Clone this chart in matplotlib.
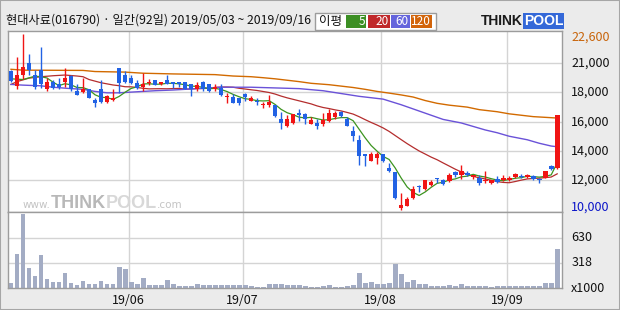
import numpy as np
import pandas as pd
import matplotlib
matplotlib.use('Agg')
import matplotlib.pyplot as plt
import matplotlib.transforms as mtransforms
from matplotlib.patches import Rectangle

plt.rcParams['font.family'] = ['Noto Sans CJK KR', 'DejaVu Sans']

# 현대사료(016790) 일봉, 2019/05/03 ~ 2019/09/16 (92 거래일)
opens = [19950, 18900, 19700, 20550, 19650, 20000, 18700, 19200, 19000, 19200,
         19600, 18550, 18450, 18700, 17900, 18700, 17750, 17900, 20150, 19650,
         19450, 19100, 18800, 19100, 19300, 19050, 19300, 19200, 19200, 19200,
         19050, 18650, 19200, 19050, 18700, 18750, 18100, 18100, 18050, 18300,
         17850, 17850, 17500, 17500, 17550, 16500, 16000, 16250, 16950, 16900,
         16200, 16250, 16150, 16400, 16700, 17000, 16550, 15650, 15050, 14050,
         13550, 13750, 14000, 13050, 12750, 10200, 10300, 10900, 11750, 11500,
         11850, 12350, 12200, 12100, 12750, 12500, 12700, 12400, 12350, 12100,
         11950, 12250, 12150, 12150, 12400, 12450, 12400, 12450, 12250, 12350,
         13200, 13000]
highs = [20000, 20950, 22600, 21200, 20000, 21650, 19450, 19350, 19450, 20150,
         19700, 19050, 19450, 18700, 18050, 19350, 18250, 18700, 20150, 19950,
         19700, 19350, 19800, 19400, 19300, 19200, 19700, 19200, 19200, 19200,
         19050, 19200, 19250, 19050, 19000, 19050, 18400, 18300, 18050, 18400,
         18150, 18000, 17750, 18250, 17550, 17050, 16800, 16900, 17250, 16950,
         16700, 16550, 16950, 17250, 17100, 17100, 16700, 16050, 15400, 14050,
         14200, 14200, 14050, 13400, 12750, 11250, 10950, 11750, 11850, 12150,
         12200, 12350, 12250, 12700, 12850, 13250, 12800, 12550, 12500, 12800,
         12200, 12450, 12500, 12450, 12700, 12600, 12600, 12500, 12300, 12850,
         13250, 16800]
lows = [19200, 18650, 19400, 19700, 18650, 18750, 18550, 18700, 18700, 18800,
        18500, 18250, 18400, 18050, 17400, 17700, 17700, 17800, 18400, 19100,
        19050, 18650, 18550, 18950, 18950, 18950, 19000, 18750, 18800, 18650,
        18200, 18550, 18500, 18450, 18500, 18200, 17700, 17650, 17550, 17800,
        17800, 17500, 17300, 17400, 16700, 15850, 15950, 16150, 16400, 16200,
        16200, 15850, 16050, 16350, 16500, 16650, 16050, 14950, 13250, 13150,
        13550, 13350, 13450, 12750, 10850, 10000, 10300, 10850, 11300, 11450,
        11750, 11950, 11800, 12000, 12400, 12250, 12450, 12250, 11850, 11950,
        11900, 11950, 12100, 12100, 12350, 12350, 12300, 12200, 11950, 12300,
        12900, 12950]
closes = [19250, 19650, 20250, 20000, 18800, 19050, 19200, 18750, 18800, 19450,
          18650, 18250, 18700, 18050, 17650, 17750, 18150, 18050, 19100, 19150,
          19100, 18750, 19050, 19200, 18950, 19150, 19050, 19050, 19000, 18650,
          18650, 18950, 18700, 18500, 18800, 18250, 18200, 17700, 17650, 18100,
          18000, 17750, 17600, 17750, 16750, 16250, 16550, 16900, 16850, 16500,
          16450, 16050, 16450, 16950, 16950, 16750, 16050, 15350, 13900, 13900,
          14000, 14000, 13500, 12800, 10900, 10400, 10800, 11550, 11700, 12150,
          12050, 12250, 11900, 12550, 12500, 12800, 12500, 12550, 11950, 12150,
          12200, 12000, 12350, 12350, 12600, 12400, 12500, 12250, 12150, 12850,
          12950, 16800]
# 거래량 (x1000)
volumes = [68, 423, 930, 245, 144, 410, 118, 72, 80, 182,
           68, 42, 93, 55, 55, 93, 51, 55, 258, 237,
           80, 55, 131, 42, 42, 42, 106, 51, 30, 30,
           30, 55, 34, 34, 42, 34, 34, 34, 34, 42,
           30, 17, 17, 55, 47, 47, 34, 34, 34, 30,
           17, 17, 30, 42, 17, 17, 30, 42, 182, 59,
           72, 47, 47, 68, 296, 169, 72, 106, 55, 55,
           30, 30, 30, 42, 30, 55, 30, 30, 30, 30,
           17, 30, 30, 30, 30, 30, 30, 30, 30, 68,
           68, 486]

# 이동평균: 차트 시작 이전 구간은 그림에서 읽은 값
ma5_head_idx = [0, 2]
ma5_head = [19400, 19350]
ma20_head_idx = [0, 1, 3, 5, 7, 9, 11, 12, 13, 15, 17, 18]
ma20_head = [19000, 19200, 19450, 19550, 19620, 19670, 19600, 19550, 19350,
             19120, 18960, 18910]
ma60_idx = [0, 2, 5, 7, 10, 12, 14, 16, 18, 20, 24, 27, 29, 32, 35, 40, 44, 48,
            52, 55, 58, 62, 65, 68, 70, 72, 75, 77, 79, 81, 83, 86, 88, 90, 91]
ma60 = [19000, 18950, 18900, 18800, 18700, 18650, 18500, 18400, 18400, 18450,
        18550, 18600, 18650, 18720, 18800, 18800, 18750, 18700, 18550, 18350,
        18150, 17950, 17550, 17100, 16800, 16500, 16250, 16000, 15750, 15550,
        15300, 15050, 14800, 14600, 14550]
ma120_idx = [0, 2, 12, 14, 19, 22, 27, 34, 37, 40, 42, 44, 46, 48, 50, 53, 55,
             57, 59, 61, 63, 65, 67, 69, 71, 73, 76, 78, 81, 83, 85, 87, 89, 91]
ma120 = [20080, 20020, 20000, 19920, 19880, 19800, 19750, 19700, 19600, 19550,
         19480, 19400, 19300, 19200, 19080, 18980, 18880, 18780, 18650, 18500,
         18380, 18250, 18100, 17850, 17650, 17520, 17380, 17200, 17050, 16900,
         16800, 16700, 16650, 16600]

month_start = [20, 39, 62, 83]
month_labels = ['19/06', '19/07', '19/08', '19/09']
price_grid = [12150, 14250, 16300, 18450, 20550]
price_grid_labels = ['12,000', '14,000', '16,000', '18,000', '21,000']
vol_grid = [318, 630]

W, H = 620, 310
def fx(x):
    return x / W
def fy(y):
    return 1 - y / H

up_c = '#F01414'
dn_c = '#2262E4'
grid_c = '#D4D4D4'
spine_c = '#9C9C9C'

fig = plt.figure(figsize=(6.2, 3.1), dpi=100, facecolor='#EBEBEB')
fig.patches.append(Rectangle((0, 0), 1, 1, transform=fig.transFigure,
                             fill=False, ec='#A6A6A6', lw=1.5))
renderer = fig.canvas.get_renderer()

left, right = 7.7, 562
ax = fig.add_axes([fx(left), fy(212), (right - left) / W, (212 - 31) / H])
axv = fig.add_axes([fx(left), fy(288), (right - left) / W, (288 - 212) / H])

o = np.array(opens)
h = np.array(highs)
l = np.array(lows)
c = np.array(closes)
idx = np.arange(len(c))
up = c >= o
cols = np.where(up, up_c, dn_c)

# 그리드
for a in (ax, axv):
    a.set_facecolor('white')
    for s in a.spines.values():
        s.set_color(spine_c)
        s.set_linewidth(1)
    a.set_xticks([])
    a.set_yticks([])
    a.set_xlim(-0.55, 91.8)
    for m in month_start:
        a.axvline(m - 0.4, color=grid_c, lw=1, zorder=0)
for g in price_grid:
    ax.axhline(g, color=grid_c, lw=1, zorder=0)
for g in vol_grid:
    axv.axhline(g, color=grid_c, lw=1, zorder=0)

ax.set_ylim(9890, 22815)
axv.set_ylim(0, 950)

# 워터마크 (www.THINKPOOL.com) - 조각을 이어 붙임
x_cur = 23
pieces = [('www.', '#C4C4C4', 7.5, 'normal', 205.5, 'DejaVu Sans'),
          ('THINK', '#B8B8B8', 13, 'bold', 203, 'Liberation Sans'),
          ('POOL', '#D8D8D8', 13, 'bold', 203, 'Liberation Sans'),
          ('.com', '#C4C4C4', 7.5, 'normal', 205.5, 'DejaVu Sans')]
for txt, col, fs, wt, yy, fam in pieces:
    t = fig.text(fx(x_cur), fy(yy), txt, color=col, fontsize=fs, weight=wt,
                 family=fam, va='center', ha='left')
    x_cur += t.get_window_extent(renderer).width

# 이동평균선
ma5 = pd.Series(c).rolling(5).mean()
ma20 = pd.Series(c).rolling(20).mean()
ax.plot(ma5_head_idx + list(idx[4:]), ma5_head + list(ma5[4:]),
        color='#3C9420', lw=0.9, zorder=3)
ax.plot(ma20_head_idx + list(idx[19:]), ma20_head + list(ma20[19:]),
        color='#B42D2D', lw=0.9, zorder=2)
ax.plot(ma60_idx, ma60, color='#6A52D8', lw=1.0, zorder=2)
ax.plot(ma120_idx, ma120, color='#D26A00', lw=1.0, zorder=2)

# 캔들
ax.vlines(idx, l, h, colors=cols, lw=1, zorder=4)
body_lo = np.minimum(o, c)
body_h = np.maximum(np.abs(c - o), 60)
ax.bar(idx, body_h, bottom=body_lo, width=0.78, color=cols, lw=0, zorder=5)

# 거래량
axv.bar(idx, volumes, width=0.82, color='#A3ACC4', lw=0, zorder=2)

# 오른쪽 눈금
trans_p = mtransforms.blended_transform_factory(ax.transAxes, ax.transData)
for g, lab in zip(price_grid, price_grid_labels):
    ax.text(1.0165, g, lab, transform=trans_p, va='center', ha='left',
            fontsize=9, color='#111111', clip_on=False)
hi_i = int(np.argmax(h))
lo_i = int(np.argmin(l))
ax.annotate(f'{h[hi_i]:,}', xy=(1, h[hi_i]), xycoords=('axes fraction', 'data'),
            xytext=(6.5, -2.4), textcoords='offset points', va='center',
            ha='left', fontsize=9, color='#C8640A', annotation_clip=False)
ax.annotate(f'{l[lo_i]:,}', xy=(1, l[lo_i]), xycoords=('axes fraction', 'data'),
            xytext=(6.5, 2.7), textcoords='offset points', va='center',
            ha='left', fontsize=9, color='#0A14C8', annotation_clip=False)

trans_v = mtransforms.blended_transform_factory(axv.transAxes, axv.transData)
for g in vol_grid[::-1]:
    axv.text(1.0165, g, str(g), transform=trans_v, va='center', ha='left',
             fontsize=9, color='#111111', clip_on=False)
axv.text(1.0165, 0, 'x1000', transform=trans_v, va='center', ha='left',
         fontsize=9, color='#111111', clip_on=False)

# 월 라벨
trans_m = mtransforms.blended_transform_factory(axv.transData, fig.transFigure)
for m, lab in zip(month_start, month_labels):
    axv.text(m - 0.4, fy(300.5), lab, transform=trans_m, ha='center',
             va='center', fontsize=9, color='#111111', clip_on=False)

# 제목
fig.text(fx(6), fy(20.5), '현대사료(016790) · 일간(92일) 2019/05/03 ~ 2019/09/16',
         fontsize=8.8, color='#111111', va='center', ha='left')

# 이평 범례
fig.patches.append(Rectangle((fx(315), fy(30)), 121 / W, 17.3 / H,
                             transform=fig.transFigure, fc='white',
                             ec='#9C9C9C', lw=1))
fig.text(fx(319), fy(21.5), '이평', fontsize=9, color='#111111', va='center')
leg = [('5', '#3C8F24', 346, 366), ('20', '#C0282A', 368, 390),
       ('60', '#6464DC', 391, 410), ('120', '#D2640A', 411, 432)]
for lab, col, x0, x1 in leg:
    fig.patches.append(Rectangle((fx(x0), fy(28)), (x1 - x0) / W, 12.7 / H,
                                 transform=fig.transFigure, fc=col, lw=0))
    fig.text(fx(x1 - 1), fy(21.5), lab, fontsize=8.5, color='white',
             va='center', ha='right')

# 로고
t_think = fig.text(fx(481), fy(21), 'THINK', fontsize=10, family='Liberation Sans',
                   weight='bold', color='#1A1A1A', va='center', ha='left')
x_pool = 481 + t_think.get_window_extent(renderer).width + 1
fig.text(fx(x_pool), fy(21), 'POOL', fontsize=10, family='Liberation Sans',
         weight='bold', color='white', va='center', ha='left',
         bbox=dict(boxstyle='square,pad=0.08', fc='#3468D8', ec='none'))

fig.savefig('out.png', dpi=100, facecolor=fig.get_facecolor())
